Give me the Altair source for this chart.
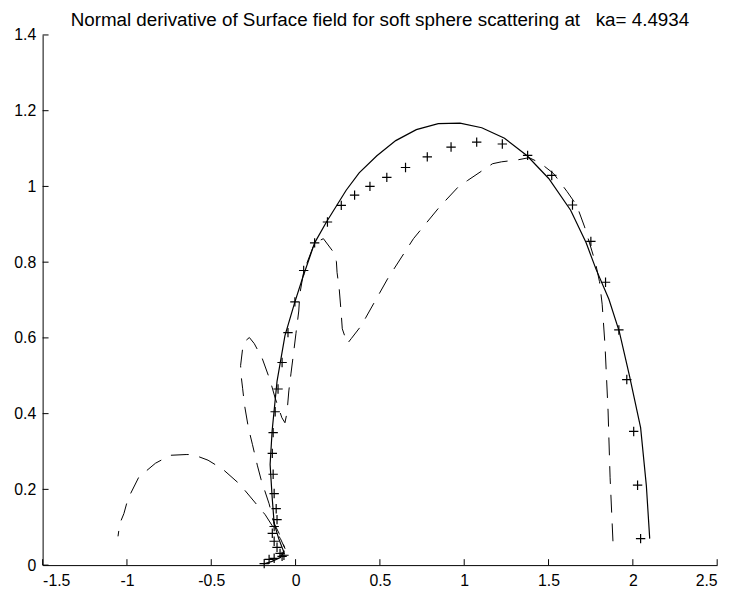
import altair as alt
import pandas as pd

# exact solution (solid line)
solid_x = [2.100, 2.080, 2.046, 1.980, 1.920, 1.858, 1.782, 1.723, 1.631, 1.501, 1.373, 1.239,
           1.104, 0.975, 0.846, 0.716, 0.594, 0.482, 0.377, 0.300, 0.183, 0.113, 0.043, -0.004,
           -0.063, -0.110, -0.139, -0.151, -0.139, -0.127, -0.100, -0.070, -0.090, -0.140, -0.190]
solid_y = [0.070, 0.210, 0.363, 0.500, 0.616, 0.702, 0.781, 0.851, 0.937, 1.021, 1.081, 1.127,
           1.155, 1.167, 1.166, 1.150, 1.121, 1.081, 1.036, 0.990, 0.906, 0.851, 0.760, 0.695,
           0.606, 0.485, 0.355, 0.266, 0.180, 0.110, 0.070, 0.035, 0.020, 0.010, 0.003]

# '+' markers
mark_x = [2.046, 2.028, 2.005, 1.964, 1.917, 1.838, 1.751, 1.642, 1.519, 1.376, 1.226, 1.074,
          0.922, 0.781, 0.652, 0.541, 0.441, 0.350, 0.271, 0.189, 0.113, 0.048, -0.004, -0.045,
          -0.080, -0.104, -0.121, -0.133, -0.138, -0.133, -0.127, -0.115, -0.110, -0.127, -0.138,
          -0.127, -0.110, -0.092, -0.080, -0.069, -0.127, -0.157, -0.186]
mark_y = [0.070, 0.211, 0.353, 0.490, 0.621, 0.747, 0.855, 0.951, 1.029, 1.082, 1.112, 1.117,
          1.104, 1.078, 1.050, 1.024, 1.000, 0.977, 0.950, 0.906, 0.851, 0.778, 0.695, 0.614,
          0.535, 0.465, 0.405, 0.350, 0.295, 0.240, 0.189, 0.149, 0.120, 0.102, 0.084,
          0.063, 0.047, 0.031, 0.023, 0.026, 0.018, 0.015, 0.004]

# dashed curve
dash_x = [1.882, 1.865, 1.853, 1.835, 1.818, 1.802, 1.778, 1.714, 1.667, 1.609, 1.530, 1.450,
          1.385, 1.315, 1.221, 1.168, 1.021, 0.963, 0.852, 0.699, 0.547, 0.418, 0.389, 0.330,
          0.307, 0.277, 0.270, 0.259, 0.246, 0.242, 0.219, 0.165, 0.113, 0.048, 0.025, 0.019,
          0.002, -0.010, -0.027, -0.040, -0.051, -0.063, -0.081, -0.121, -0.151, -0.198, -0.245,
          -0.274, -0.303, -0.314, -0.326, -0.321, -0.314, -0.303, -0.280, -0.256, -0.227, -0.204,
          -0.157, -0.127, -0.098, -0.063, -0.090, -0.180, -0.268, -0.332, -0.431, -0.519, -0.608,
          -0.649, -0.743, -0.831, -0.930, -0.994, -1.018, -1.042, -1.053]
dash_y = [0.063, 0.232, 0.407, 0.580, 0.689, 0.749, 0.799, 0.893, 0.950, 0.987, 1.034, 1.062,
          1.076, 1.070, 1.065, 1.060, 1.016, 0.998, 0.945, 0.862, 0.757, 0.655, 0.632, 0.598,
          0.585, 0.624, 0.668, 0.728, 0.773, 0.802, 0.830, 0.862, 0.851, 0.775, 0.715, 0.671,
          0.611, 0.567, 0.507, 0.460, 0.402, 0.376, 0.389, 0.441, 0.488, 0.546, 0.585,
          0.601, 0.590, 0.572, 0.527, 0.493, 0.467, 0.423, 0.363, 0.319, 0.264, 0.225,
          0.162, 0.110, 0.084, 0.044, 0.070, 0.133, 0.180, 0.214, 0.253, 0.277, 0.292,
          0.292, 0.290, 0.269, 0.232, 0.175, 0.136, 0.110, 0.076]

x_ticks = [-1.5, -1, -0.5, 0, 0.5, 1, 1.5, 2, 2.5]
y_ticks = [0, 0.2, 0.4, 0.6, 0.8, 1, 1.2, 1.4]

title_text = ["Normal derivative of Surface field for soft sphere scattering at\u00a0\u00a0\u00a0ka= 4.4934"]

FONT = "Liberation Sans, Arial, Helvetica, sans-serif"
W, H = 682, 536

solid_df = pd.DataFrame({"x": solid_x, "y": solid_y, "i": range(len(solid_x))})
mark_df = pd.DataFrame({"x": mark_x, "y": mark_y})
dash_df = pd.DataFrame({"x": dash_x, "y": dash_y, "i": range(len(dash_x))})
xt_df = pd.DataFrame({"x": x_ticks})
yt_df = pd.DataFrame({"y": y_ticks})
title_df = pd.DataFrame({"t": title_text})

xs = alt.Scale(domain=[-1.5, 2.5], nice=False, zero=False)
ys = alt.Scale(domain=[0, 1.4], nice=False, zero=False)

x_axis = alt.Axis(values=x_ticks, labelExpr="'' + datum.value", ticks=False, grid=False,
                  domainColor="black", domainWidth=1, labelColor="black", labelFont=FONT,
                  labelFontSize=16, labelPadding=8, title=None)
y_axis = alt.Axis(values=y_ticks, labelExpr="'' + datum.value", ticks=False, grid=False,
                  domainColor="black", domainWidth=1, labelColor="black", labelFont=FONT,
                  labelFontSize=16, labelPadding=7, title=None)

X = alt.X("x:Q", scale=xs, axis=x_axis)
Y = alt.Y("y:Q", scale=ys, axis=y_axis)

solid = alt.Chart(solid_df).mark_line(color="black", strokeWidth=1.2).encode(
    x=X, y=Y, order="i:Q",
)

dashed = alt.Chart(dash_df).mark_line(color="black", strokeWidth=1, strokeDash=[18, 11]).encode(
    x=X, y=Y, order="i:Q",
)

markers = alt.Chart(mark_df).mark_point(
    shape="M-1,0L1,0M0,-1L0,1", filled=False, size=90, color="black", strokeWidth=1.2, opacity=1
).encode(x=X, y=Y)

xticks = alt.Chart(xt_df).mark_rule(color="black", strokeWidth=1).encode(
    x=X,
    y=alt.value(H),
    y2=alt.value(H - 6),
)

yticks = alt.Chart(yt_df).mark_rule(color="black", strokeWidth=1).encode(
    y=Y,
    x=alt.value(0),
    x2=alt.value(6),
)

title = alt.Chart(title_df).mark_text(
    font=FONT, fontSize=19, color="black", align="center", baseline="alphabetic"
).encode(
    text="t:N",
    x=alt.value(W / 2),
    y=alt.value(-9),
)

chart = alt.layer(solid, dashed, markers, xticks, yticks, title).properties(
    width=W,
    height=H,
    background="white",
    autosize=alt.AutoSizeParams(type="none"),
    padding={"left": 35, "top": 24, "right": 16, "bottom": 30},
).configure_view(stroke=None)

chart.save("out.html", embed_options={"renderer": "svg", "actions": False})
